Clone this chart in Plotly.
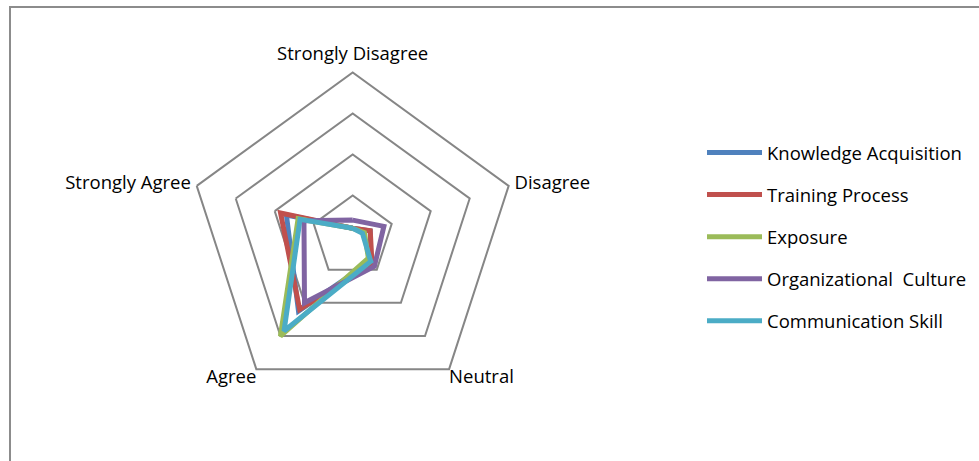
import plotly.graph_objects as go

categories = ["Strongly Disagree", "Disagree", "Neutral", "Agree", "Strongly Agree"]

knowledge_acquisition = [4, 9, 15, 45, 34]
training_process = [4, 9, 16, 44, 37]
exposure = [4, 6, 13, 60, 28]
organizational_culture = [8, 16, 18, 40, 25]
communication_skill = [4, 5, 15, 57, 27]

series_names = ["Knowledge Acquisition", "Training Process", "Exposure",
                "Organizational  Culture", "Communication Skill"]
series_values = [knowledge_acquisition, training_process, exposure,
                 organizational_culture, communication_skill]
colors = ["#4F81BD", "#C0504D", "#9BBB59", "#8064A2", "#4BACC6"]

radial_ticks = [0, 20, 40, 60, 80]
label_radius = [84, 83, 80, 80, 83]
label_positions = ["top center", "middle right", "bottom right", "bottom left", "middle left"]

FONT = "Open Sans"
FS = 18.5

W, H = 979, 461
RMAX = 86
cx, cy = 352.7, 236.5
R = 164 * RMAX / 80  # pixel radius of the (hidden) range edge

fig = go.Figure()
for i, (name, vals, col) in enumerate(zip(series_names, series_values, colors)):
    fig.add_trace(go.Scatterpolar(
        r=vals + vals[:1],
        theta=categories + categories[:1],
        mode="lines",
        name=name,
        legendgroup=f"g{i}",
        line=dict(color=col, width=5),
    ))

# category labels placed just outside the outer vertices
fig.add_trace(go.Scatterpolar(
    r=label_radius, theta=categories, mode="text", text=categories,
    textposition=label_positions, cliponaxis=False, showlegend=False,
    hoverinfo="skip", textfont=dict(family=FONT, size=FS, color="black"),
))

fig.update_layout(
    width=W, height=H,
    margin=dict(l=0, r=0, t=0, b=0),
    paper_bgcolor="white",
    plot_bgcolor="white",
    font=dict(family=FONT, size=FS, color="black"),
    polar=dict(
        domain=dict(x=[(cx - R) / W, (cx + R) / W],
                    y=[(H - cy - R) / H, (H - cy + R) / H]),
        gridshape="linear",
        bgcolor="white",
        radialaxis=dict(range=[0, RMAX], tickvals=radial_ticks, showticklabels=False,
                        ticks="", showline=False, gridcolor="#868686", gridwidth=1.5),
        angularaxis=dict(direction="clockwise", rotation=90, showgrid=False,
                         showline=False, ticks="", showticklabels=False),
    ),
    legend=dict(x=702 / W, y=1 - 134 / H, xanchor="left", yanchor="top",
                traceorder="grouped", tracegroupgap=15, itemwidth=55,
                font=dict(size=FS, family=FONT, color="black"),
                bgcolor="rgba(0,0,0,0)"),
    shapes=[dict(type="rect", xref="paper", yref="paper",
                 x0=10 / W, x1=1.02, y0=-0.02, y1=1 - 7 / H,
                 line=dict(color="#8C8C8C", width=2), fillcolor="rgba(0,0,0,0)",
                 layer="below")],
)

fig.write_html("out.html")
